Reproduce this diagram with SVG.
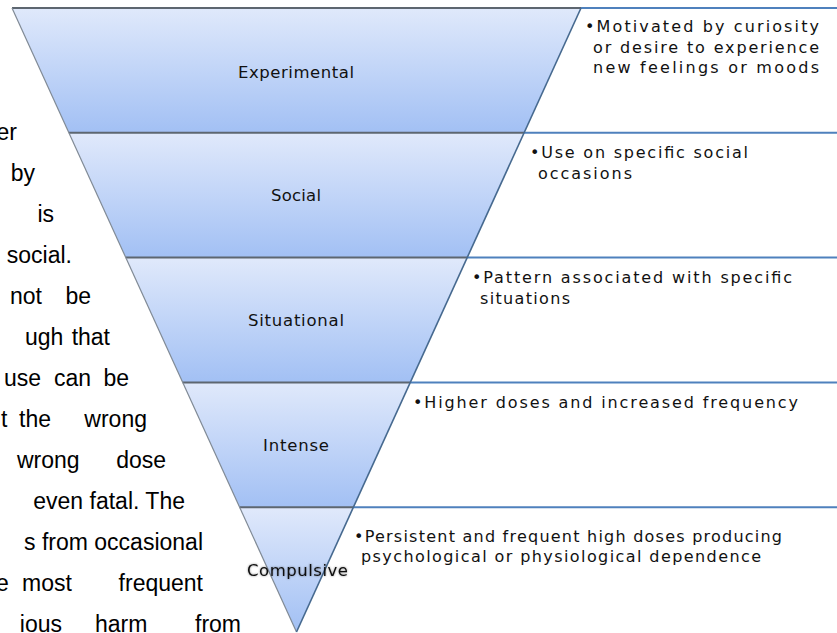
<svg xmlns="http://www.w3.org/2000/svg" width="837" height="633" viewBox="0 0 837 633">
<defs>
<linearGradient id="bandGrad" x1="0" y1="0" x2="0" y2="1">
<stop offset="0" stop-color="#e0e9fb"/>
<stop offset="1" stop-color="#a2c0f4"/>
</linearGradient>
<filter id="glow" x="-20%" y="-50%" width="140%" height="200%">
<feGaussianBlur in="SourceAlpha" stdDeviation="1.3" result="b"/>
<feFlood flood-color="#000" flood-opacity="0.45"/>
<feComposite in2="b" operator="in" result="s"/>
<feMerge><feMergeNode in="s"/><feMergeNode in="SourceGraphic"/></feMerge>
</filter>
</defs>
<style>
.para{font-family:"Liberation Sans",Arial,sans-serif;font-size:23px;fill:#000}
.lbl{font-family:"DejaVu Sans",Verdana,sans-serif;font-size:16.5px;fill:#111;text-anchor:middle}
.desc{font-family:"DejaVu Sans",Verdana,sans-serif;font-size:16px;fill:#111}
.band{fill:url(#bandGrad)}
.div{stroke:#5d6670;stroke-width:2}
.rule{stroke:#4f81bd;stroke-width:2}
.ledge{stroke:#808a95;stroke-width:1.2}
.redge{stroke:#46698f;stroke-width:1.6}
</style>
<rect width="837" height="633" fill="#fff"/>

<g id="paragraph" class="para">
<text x="17" y="140" text-anchor="end">er</text>
<text x="35" y="181" text-anchor="end">by</text>
<text x="54" y="222" text-anchor="end">is</text>
<text x="72" y="263" text-anchor="end">social.</text>
<text y="304"><tspan x="10">not</tspan><tspan x="91" text-anchor="end">be</tspan></text>
<text y="345"><tspan x="25">ugh</tspan><tspan x="110" text-anchor="end">that</tspan></text>
<text y="386"><tspan x="4">use</tspan><tspan x="54">can</tspan><tspan x="129" text-anchor="end">be</tspan></text>
<text y="427"><tspan x="1">t</tspan><tspan x="19">the</tspan><tspan x="147" text-anchor="end">wrong</tspan></text>
<text y="468"><tspan x="17">wrong</tspan><tspan x="166" text-anchor="end">dose</tspan></text>
<text x="185" y="509" text-anchor="end">even fatal. The</text>
<text x="203" y="550" text-anchor="end">s from occasional</text>
<text y="591"><tspan x="-4">e</tspan><tspan x="22">most</tspan><tspan x="203" text-anchor="end">frequent</tspan></text>
<text y="632"><tspan x="62" text-anchor="end">ious</tspan><tspan x="95">harm</tspan><tspan x="241" text-anchor="end">from</tspan></text>
</g>

<g id="experimental">
<polygon class="band" points="12,8 581,8 524.1,132.8 68.9,132.8"/>
<line class="div" x1="12" y1="8" x2="581" y2="8"/>
<line class="rule" x1="581" y1="8" x2="837" y2="8"/>
<text class="lbl" x="296" y="78" textLength="116" lengthAdjust="spacing">Experimental</text>
<text class="desc" y="32"><tspan x="585" textLength="234" lengthAdjust="spacing">•Motivated by curiosity</tspan><tspan x="593" dy="20.5" textLength="226" lengthAdjust="spacing">or desire to experience</tspan><tspan x="593" dy="20.5" textLength="226" lengthAdjust="spacing">new feelings or moods</tspan></text>
</g>

<g id="social">
<polygon class="band" points="68.9,132.8 524.1,132.8 467.2,257.6 125.8,257.6"/>
<line class="div" x1="68.9" y1="132.8" x2="524.1" y2="132.8"/>
<line class="rule" x1="524.1" y1="132.8" x2="837" y2="132.8"/>
<text class="lbl" x="296" y="201" textLength="50" lengthAdjust="spacing">Social</text>
<text class="desc" y="158"><tspan x="530" textLength="218" lengthAdjust="spacing">•Use on specific social</tspan><tspan x="538" dy="21" textLength="94" lengthAdjust="spacing">occasions</tspan></text>
</g>

<g id="situational">
<polygon class="band" points="125.8,257.6 467.2,257.6 410.3,382.4 182.7,382.4"/>
<line class="div" x1="125.8" y1="257.6" x2="467.2" y2="257.6"/>
<line class="rule" x1="467.2" y1="257.6" x2="837" y2="257.6"/>
<text class="lbl" x="296" y="326" textLength="96" lengthAdjust="spacing">Situational</text>
<text class="desc" y="283"><tspan x="472" textLength="320" lengthAdjust="spacing">•Pattern associated with specific</tspan><tspan x="480" dy="21" textLength="90" lengthAdjust="spacing">situations</tspan></text>
</g>

<g id="intense">
<polygon class="band" points="182.7,382.4 410.3,382.4 353.4,507.2 239.6,507.2"/>
<line class="div" x1="182.7" y1="382.4" x2="410.3" y2="382.4"/>
<line class="rule" x1="410.3" y1="382.4" x2="837" y2="382.4"/>
<text class="lbl" x="296" y="451" textLength="66" lengthAdjust="spacing">Intense</text>
<text class="desc" x="413" y="408" textLength="385" lengthAdjust="spacing">•Higher doses and increased frequency</text>
</g>

<g id="compulsive">
<polygon class="band" points="239.6,507.2 353.4,507.2 296.5,632"/>
<line class="div" x1="239.6" y1="507.2" x2="353.4" y2="507.2"/>
<line class="rule" x1="353.4" y1="507.2" x2="837" y2="507.2"/>
<text class="desc" y="542"><tspan x="354" textLength="428" lengthAdjust="spacing">•Persistent and frequent high doses producing</tspan><tspan x="361" dy="20" textLength="400" lengthAdjust="spacing">psychological or physiological dependence</tspan></text>
</g>

<g id="connectors">
<line class="ledge" x1="12" y1="8" x2="296.5" y2="632"/>
<line class="redge" x1="581" y1="8" x2="296.5" y2="632"/>
</g>

<text class="lbl" x="297.5" y="576" textLength="101" lengthAdjust="spacing" filter="url(#glow)">Compulsive</text>
</svg>
